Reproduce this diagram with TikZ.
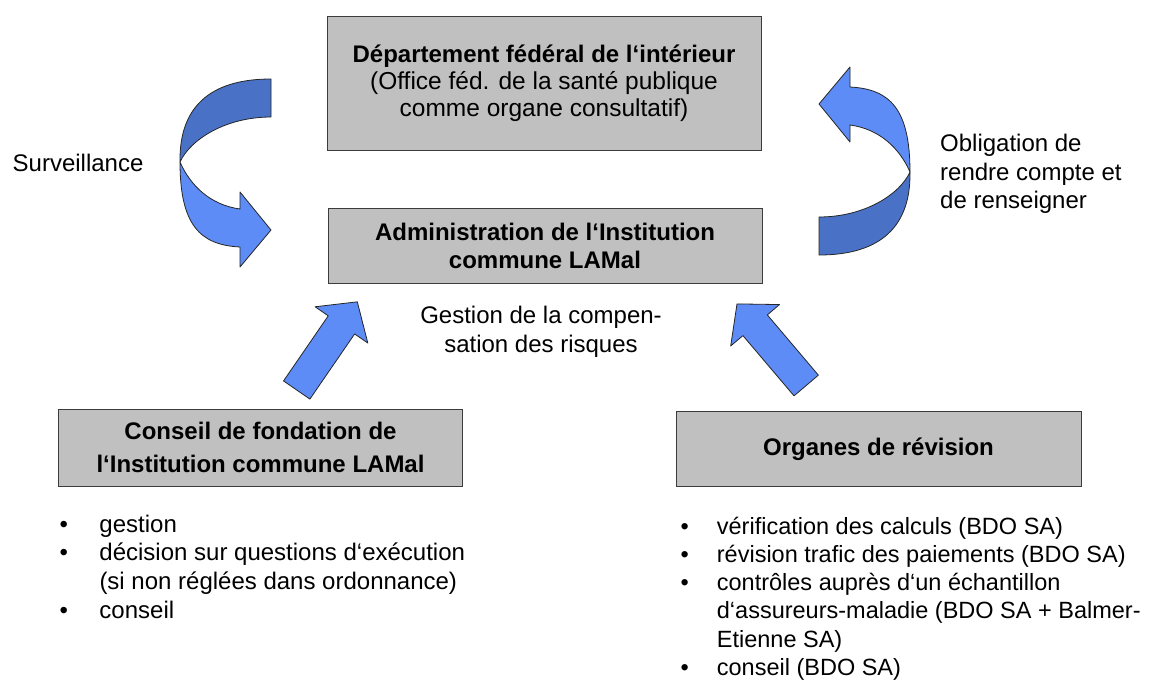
\documentclass[tikz,border=0pt]{standalone}
\usepackage{fontspec}
\setmainfont{Liberation Sans}
\definecolor{boxgray}{RGB}{192,192,192}
\definecolor{boxline}{RGB}{60,60,60}
\definecolor{arrlight}{RGB}{93,140,246}
\definecolor{arrdark}{RGB}{73,114,199}
\newcommand{\bul}[1]{\makebox[#1][l]{•}}
\tikzset{
  box/.style={draw=boxline, fill=boxgray, line width=1pt, inner sep=0pt, align=center},
  lbl/.style={inner sep=0pt, font=\fontsize{24}{28.5}\selectfont},
  lst/.style={inner sep=0pt},
  arrowfill/.style={fill=arrlight, draw=black!85, line width=0.8pt, line join=round},
  arrowdark/.style={fill=arrdark, draw=black!85, line width=0.8pt, line join=round},
  curvedarrow/.pic={
    \path[arrowdark] (46,-94) .. controls (-8,-94) and (-46,-72) .. (-45,-11)
       .. controls (-35,-33) and (0,-56) .. (46,-56) -- cycle;
    \path[arrowfill] (-45,-11) .. controls (-35,12) and (-15,32) .. (15,36)
       -- (15,19) -- (46,57) -- (15,94) -- (15,74)
       .. controls (-25,72) and (-45,52) .. (-45,-11) -- cycle;
  },
  blockarrow/.pic={
    \path[arrowfill] (0,-16) -- (79,-16) -- (79,-32) -- (107,0) -- (79,32) -- (79,16) -- (0,16) -- cycle;
  }
}
\begin{document}
\begin{tikzpicture}[x=1pt,y=-1pt]
\useasboundingbox[fill=white] (0,0) rectangle (1152,681);

% boxes
\node[box, minimum width=434pt, minimum height=134pt, font=\fontsize{24.5}{27}\selectfont] (dfi) at (544,83)
  {{\fontsize{24}{27}\selectfont\bfseries Département fédéral de l‘intérieur}\\(Office féd. de la santé publique\\comme organe consultatif)};
\node[box, minimum width=434pt, minimum height=75pt, font=\fontsize{24}{28}\selectfont\bfseries] (admin) at (545,245.7)
  {Administration de l‘Institution\\commune LAMal};
\node[box, minimum width=404.4pt, minimum height=76.7pt, font=\fontsize{24}{33}\selectfont\bfseries] (conseil) at (260.5,447.7)
  {Conseil de fondation de\\l‘Institution commune LAMal};
\node[box, minimum width=405pt, minimum height=74.3pt, font=\fontsize{24}{27}\selectfont\bfseries] (organes) at (878.5,448.9)
  {Organes de révision};

% labels
\node[lbl, anchor=base west] (surv) at (12.5,171.7) {Surveillance};
\node[lbl, anchor=base west] (oblig) at (940,151.5)
  {\begin{tabular}[t]{@{}l@{}}Obligation de\\rendre compte et\\de renseigner\end{tabular}};
\node[lbl, anchor=base, font=\fontsize{24}{29}\selectfont] (gestion) at (541,323)
  {\begin{tabular}[t]{@{}c@{}}Gestion de la compen-\\sation des risques\end{tabular}};

% lists
\node[lst, anchor=base west, font=\fontsize{24}{28.7}\selectfont] (listL) at (59.3,532)
  {\begin{tabular}[t]{@{}l@{}}
   \bul{40pt}gestion\\
   \bul{40pt}décision sur questions d‘exécution\\
   \hspace*{40pt}(si non réglées dans ordonnance)\\
   \bul{40pt}conseil
   \end{tabular}};
\node[lst, anchor=base west, font=\fontsize{23.5}{28.3}\selectfont] (listR) at (680.5,534)
  {\begin{tabular}[t]{@{}l@{}}
   \bul{36.2pt}vérification des calculs (BDO SA)\\
   \bul{36.2pt}révision trafic des paiements (BDO SA)\\
   \bul{36.2pt}contrôles auprès d‘un échantillon\\
   \hspace*{36.2pt}d‘assureurs-maladie (BDO SA + Balmer-\\
   \hspace*{36.2pt}Etienne SA)\\
   \bul{36.2pt}conseil (BDO SA)
   \end{tabular}};

% curved arrows
\pic at (225,173) {curvedarrow};
\pic[rotate=180] at (865,161) {curvedarrow};

% straight block arrows
\pic[rotate=55.5] at (296.7,390) {blockarrow};
\pic[rotate=130.3] at (806.2,385.5) {blockarrow};
\end{tikzpicture}
\end{document}
